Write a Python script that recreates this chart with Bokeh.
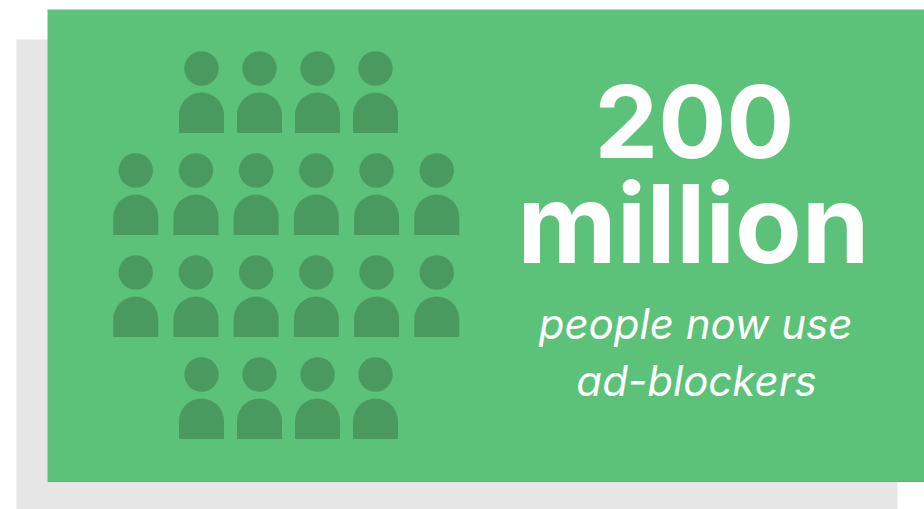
from math import pi

from bokeh.core.properties import value
from bokeh.embed import file_html
from bokeh.plotting import figure
from bokeh.resources import INLINE

# People per row of the pictogram, and the captions beside it
row_counts = [4, 6, 6, 4]
headline = ["200", "million"]
caption = ["people now use", "ad-blockers"]

W, H = 924, 509
SHADOW = "#e6e6e6"
PANEL = "#5cc279"
ICON = "#4a9a60"
WHITE = "#ffffff"

p = figure(width=W, height=H, x_range=(0, W), y_range=(H, 0), output_backend="svg",
           toolbar_location=None, min_border=0, outline_line_color=None,
           background_fill_color=WHITE, border_fill_color=WHITE)
p.axis.visible = False
p.grid.visible = False

# Drop shadow and card
p.quad(left=16, right=897, top=39, bottom=509, fill_color=SHADOW, line_color=None)
p.quad(left=47, right=924, top=9, bottom=481, fill_color=PANEL, line_color=None)
p.segment(x0=47, x1=924, y0=481, y1=481, line_color="#7f9f88", line_width=1)

# Person icons: short rows sit slightly right of the long ones
FIRST_HEAD_Y, ROW_STEP = 68, 102
head_x, head_y, dome_y, body_bottom = [], [], [], []
for r, count in enumerate(row_counts):
    step, centre = (58, 288) if count == 4 else (60.2, 285.75)
    cy = FIRST_HEAD_Y + r * ROW_STEP
    for i in range(count):
        head_x.append(centre + (i - (count - 1) / 2) * step)
        head_y.append(cy)
        dome_y.append(cy + 46.5)
        body_bottom.append(cy + 64.5)

p.ellipse(x=head_x, y=head_y, width=34.5, height=34.5, fill_color=ICON, line_color=None)
p.wedge(x=head_x, y=dome_y, radius=22.5, start_angle=0, end_angle=pi, direction="anticlock",
        fill_color=ICON, line_color=None)
p.quad(left=[x - 22.5 for x in head_x], right=[x + 22.5 for x in head_x],
       top=dome_y, bottom=body_bottom, fill_color=ICON, line_color=None)

# Headline and caption, one glyph per line so each can carry its own size
p.text(x=[694], y=[121], text=[headline[0]], text_font=value("Inter"),
       text_font_style="bold", text_font_size="101px", text_color=WHITE,
       text_align="center", text_baseline="middle")
p.text(x=[693], y=[222], text=[headline[1]], text_font=value("Inter"),
       text_font_style="bold", text_font_size="109px", text_color=WHITE,
       text_align="center", text_baseline="middle")
p.text(x=[695, 696], y=[323, 380], text=caption, text_font=value("Inter"),
       text_font_style="italic", text_font_size="42px", text_color=WHITE,
       text_align="center", text_baseline="middle")

open("out.html", "w").write(file_html(p, INLINE))
